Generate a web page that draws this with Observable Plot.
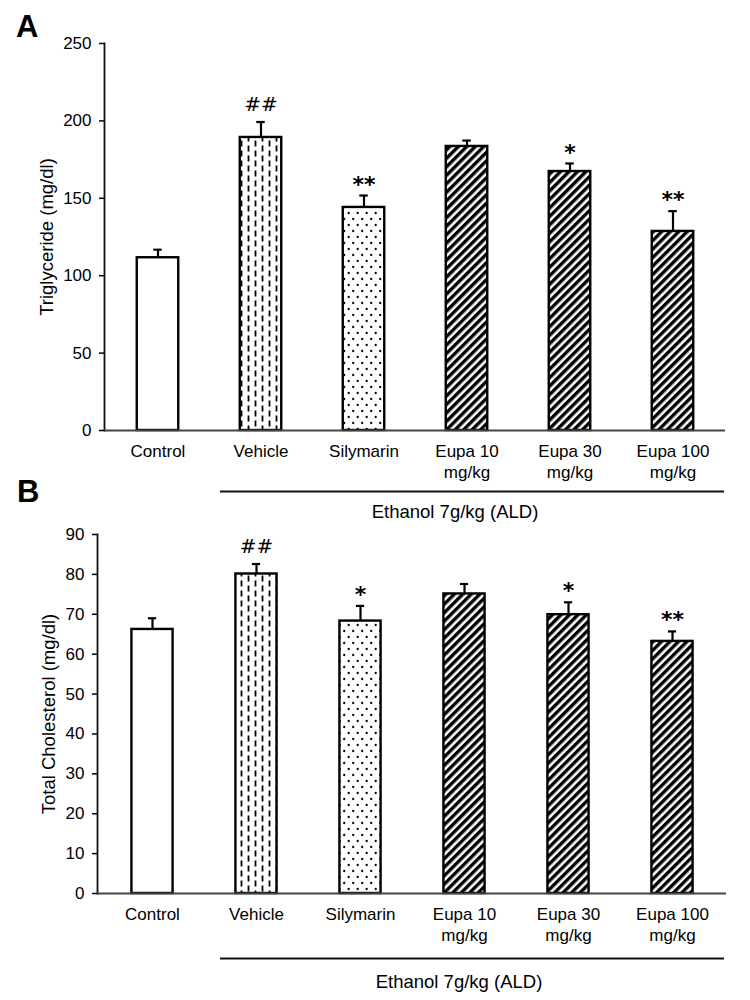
<!DOCTYPE html>
<html>
<head>
<meta charset="utf-8">
<script src="https://cdn.jsdelivr.net/npm/d3@7"></script>
<script src="https://cdn.jsdelivr.net/npm/@observablehq/plot@0.6"></script>
<style>
  body { margin: 0; background: #fff; }
  #wrap { position: relative; width: 750px; height: 1000px; font-family: "Liberation Sans", Arial, sans-serif; color: #000; }
  .letter { position: absolute; font-weight: bold; font-size: 31px; line-height: 1; font-family: "Liberation Sans", Arial, sans-serif; }
  #panelA, #panelB { position: absolute; left: 0; }
  #panelA { top: 0; }
  #panelB { top: 520px; }
  #panelA svg, #panelB svg { overflow: visible; }
</style>
</head>
<body>
<svg width="0" height="0" style="position:absolute">
  <defs>
    <pattern id="vdash" patternUnits="userSpaceOnUse" width="14" height="10">
      <rect width="14" height="10" fill="#fff"/>
      <line x1="3.5" y1="0.5" x2="3.5" y2="6.5" stroke="#000" stroke-width="1.8"/>
      <line x1="10.5" y1="5.5" x2="10.5" y2="11.5" stroke="#000" stroke-width="1.8"/>
      <line x1="10.5" y1="-4.5" x2="10.5" y2="1.5" stroke="#000" stroke-width="1.8"/>
    </pattern>
    <pattern id="dots" patternUnits="userSpaceOnUse" width="9" height="12">
      <rect width="9" height="12" fill="#fff"/>
      <circle cx="2.2" cy="3" r="1.15" fill="#000"/>
      <circle cx="6.7" cy="9" r="1.15" fill="#000"/>
    </pattern>
    <pattern id="diag" patternUnits="userSpaceOnUse" width="6" height="6" patternTransform="rotate(45)">
      <rect width="6" height="6" fill="#fff"/>
      <rect x="0" y="0" width="3.4" height="6" fill="#000"/>
    </pattern>
  </defs>
</svg>
<div id="wrap">
  <div id="panelA"></div>
  <div id="panelB"></div>
  <div class="letter" style="left:16px; top:11px;">A</div>
  <div class="letter" style="left:17px; top:476px;">B</div>
</div>
<script>
// ---- data ----
const groups = ["Control", "Vehicle", "Silymarin", "Eupa 10\nmg/kg", "Eupa 30\nmg/kg", "Eupa 100\nmg/kg"];
const ethanolGroups = ["Vehicle", "Silymarin", "Eupa 10\nmg/kg", "Eupa 30\nmg/kg", "Eupa 100\nmg/kg"];
const groupLabel = "Ethanol 7g/kg (ALD)";

const tgMean = [111.6, 189.3, 144.1, 183.5, 167.3, 128.6];
const tgErr  = [5.2, 10.0, 7.7, 3.8, 5.2, 13.1];
const tgMark = ["", "##", "**", "", "*", "**"];
const tgTicks = [0, 50, 100, 150, 200, 250];
const tgLabel = "Triglyceride (mg/dl)";

const tcMean = [66.2, 80.1, 68.3, 75.1, 69.9, 63.2];
const tcErr  = [2.8, 2.5, 3.8, 2.5, 3.1, 2.5];
const tcMark = ["", "##", "*", "", "*", "**"];
const tcTicks = [0, 10, 20, 30, 40, 50, 60, 70, 80, 90];
const tcLabel = "Total Cholesterol (mg/dl)";

const fills = ["#fff", "url(#vdash)", "url(#dots)", "url(#diag)", "url(#diag)", "url(#diag)"];

function panel(opts) {
  const {means, errs, marks, ticks, label, height, marginTop, marginBottom, marginLeft, marginRight,
         labelDx, lineDy, lineInset, textDy, textDx, catPad} = opts;
  const data = groups.map((g, i) => ({group: g, mean: means[i], err: errs[i], top: means[i] + errs[i], mark: marks[i]}));
  const step = (750 - marginLeft - marginRight) / groups.length;
  const barInset = (step - 42) / 2;
  const capInset = (step - 9) / 2;
  return Plot.plot({
    width: 750,
    height,
    marginTop, marginBottom, marginLeft, marginRight,
    style: {fontFamily: "'Liberation Sans', Arial, sans-serif", fontSize: "17px", color: "#000", background: "transparent", overflow: "visible"},
    x: {domain: groups, padding: 0, axis: null},
    y: {domain: [0, ticks[ticks.length - 1]], axis: null},
    color: {domain: groups, range: fills},
    marks: [
      Plot.barY(data, {x: "group", y: "mean", fill: "group", stroke: "#000", strokeWidth: 2.4, insetLeft: barInset, insetRight: barInset}),
      Plot.ruleX(data, {x: "group", y1: "mean", y2: "top", stroke: "#000", strokeWidth: 2.2}),
      Plot.tickY(data, {x: "group", y: "top", stroke: "#000", strokeWidth: 2.2, insetLeft: capInset, insetRight: capInset}),
      Plot.text(data.filter(d => d.mark.startsWith("#")), {x: "group", y: "top", text: "mark", dy: -17, fontFamily: "DejaVu Sans", fontSize: 20, lineAnchor: "middle"}),
      Plot.text(data.filter(d => d.mark.startsWith("*")), {x: "group", y: "top", text: "mark", dy: -11, fontFamily: "DejaVu Sans", fontWeight: "bold", fontSize: 22, lineAnchor: "middle"}),
      Plot.axisY({ticks, tickSize: 5, tickPadding: 8, fontSize: 17, label: null, stroke: "#000", strokeWidth: 1.5}),
      Plot.frame({anchor: "left", stroke: "#111", strokeWidth: 1.8}),
      Plot.ruleY([0], {stroke: "#444", strokeWidth: 2}),
      Plot.axisX({tickSize: 0, tickPadding: 11, fontSize: 17, lineHeight: 1.25, label: null}),
      Plot.text([label], {text: d => d, frameAnchor: "left", rotate: -90, dx: labelDx, textAnchor: "middle", lineAnchor: "middle", fontSize: 18.5}),
      Plot.ruleY([{from: ethanolGroups[0], to: ethanolGroups[ethanolGroups.length - 1]}], {y: () => 0, x1: "from", x2: "to", dy: lineDy, insetLeft: lineInset, stroke: "#111", strokeWidth: 2}),
      Plot.text([groupLabel], {text: d => d, frameAnchor: "bottom", dx: textDx, dy: textDy, textAnchor: "middle", lineAnchor: "middle", fontSize: 18.5})
    ]
  });
}

document.getElementById("panelA").appendChild(panel({
  means: tgMean, errs: tgErr, marks: tgMark, ticks: tgTicks, label: tgLabel,
  height: 520, marginTop: 43, marginBottom: 90, marginLeft: 104, marginRight: 25,
  labelDx: -57, lineDy: 61, lineInset: 11, textDy: 82, textDx: 40
}));

document.getElementById("panelB").appendChild(panel({
  means: tcMean, errs: tcErr, marks: tcMark, ticks: tcTicks, label: tcLabel,
  height: 480, marginTop: 14, marginBottom: 107, marginLeft: 97, marginRight: 24,
  labelDx: -48, lineDy: 65, lineInset: 16, textDy: 89, textDx: 47
}));
</script>
</body>
</html>
